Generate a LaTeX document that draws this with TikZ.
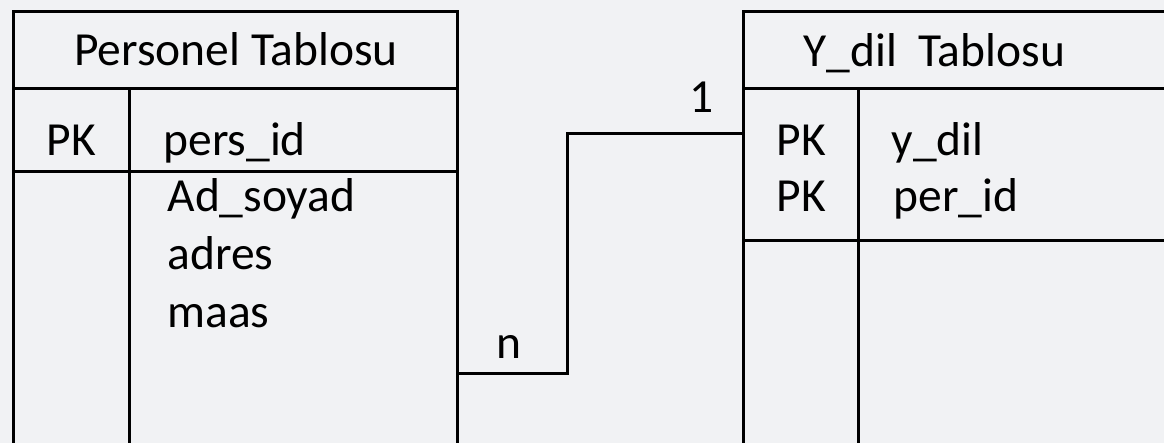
\documentclass[tikz,border=0pt]{standalone}
\usepackage{fontspec}
\setmainfont{Carlito}
\definecolor{bgc}{RGB}{241,242,244}
\begin{document}
\begin{tikzpicture}[x=1pt,y=-1pt,
  line width=3pt,
  tablebox/.style={draw=black, line width=3pt, rectangle, inner sep=0pt, anchor=north west},
  txt/.style={font=\fontsize{47.5}{56}\selectfont, anchor=base west, inner sep=0pt, text=black},
  conn/.style={line width=3pt, draw=black}]
\useasboundingbox (0,0) rectangle (1164,443);
\fill[bgc] (0,0) rectangle (1164,443);
\clip (0,0) rectangle (1164,443);
% Personel table
\node[tablebox, minimum width=444pt, minimum height=470pt] (ptab) at (12,10) {};
\draw (ptab.north west |- 0,89) coordinate (ph1) -- (ptab.north east |- 0,89) coordinate (ph2);
\draw (129,89) coordinate (pv1) -- (129,460) coordinate (pv2);
\draw (ptab.north west |- 0,172) coordinate (pr1) -- (458,172) coordinate (pr2);
\node[txt, anchor=base] (ptitle) at (236,66) {Personel Tablosu};
\node[txt] (ppk) at (45,156) {PK};
\node[txt] (pid) at (162,156) {pers\_id};
\node[txt] (pad) at (166,212) {Ad\_soyad};
\node[txt] (padr) at (166,270) {adres};
\node[txt] (pmaas) at (166,328) {maas};
% Y_dil table
\node[tablebox, minimum width=450pt, minimum height=470pt] (ytab) at (742,10) {};
\draw (ytab.north west |- 0,89) coordinate (yh1) -- (1170,89) coordinate (yh2);
\draw (858,89) coordinate (yv1) -- (858,460) coordinate (yv2);
\draw (ytab.north west |- 0,241) coordinate (yr1) -- (1170,241) coordinate (yr2);
\node[txt] (ytitle) at (802,67) {Y\_dil\ \ Tablosu};
\node[txt] (ypk1) at (775,156) {PK};
\node[txt] (ypk2) at (775,212) {PK};
\node[txt] (ydil) at (890,156) {y\_dil};
\node[txt] (yper) at (892,212) {per\_id};
% connector
\coordinate (ca) at (ptab.east |- 0,373);
\coordinate (cm) at (567,254);
\coordinate (cb) at (ytab.west |- 0,134);
\draw[conn, line cap=rect] (ca) -| (cm) |- (cb);
\node[txt] (nlab) at (495,359) {n};
\node[txt] (olab) at (688,113) {1};
\end{tikzpicture}
\end{document}
